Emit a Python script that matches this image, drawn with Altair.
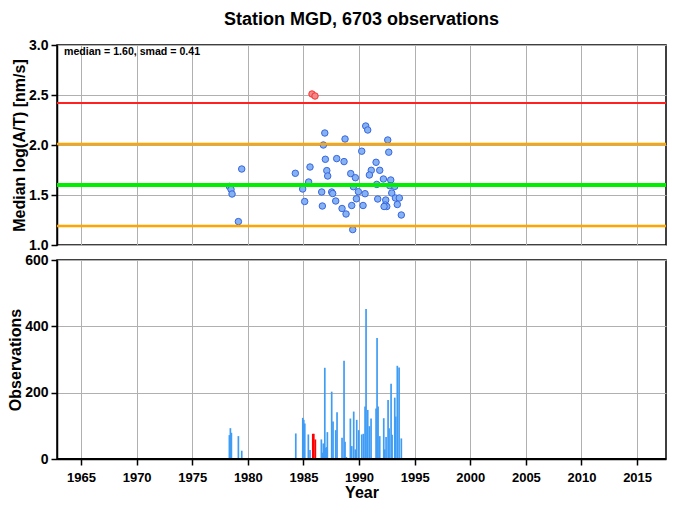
import altair as alt
import pandas as pd

# ---- data ----
pt_year = [1978.34, 1978.49, 1978.58, 1979.15, 1979.45,
           1984.27, 1985.59, 1985.47, 1984.93, 1985.11, 1986.92, 1986.79, 1986.97, 1987.10, 1987.18,
           1986.64, 1986.70, 1987.54, 1987.63, 1987.90, 1987.99, 1988.65, 1988.74, 1988.47, 1988.83,
           1989.25, 1989.67, 1989.49, 1989.94, 1989.76, 1989.34, 1989.43, 1990.24, 1990.54, 1990.36,
           1990.60, 1990.78, 1991.53, 1991.10, 1990.93, 1991.86, 1991.59, 1991.68, 1992.58, 1992.67,
           1992.19, 1992.85, 1992.76, 1993.21, 1992.94, 1993.27, 1993.62, 1992.40, 1992.36, 1992.49,
           1992.25, 1993.44, 1993.80]
pt_value = [1.586, 1.556, 1.51, 1.234, 1.76,
            1.717, 1.78, 1.63, 1.56, 1.435, 2.12, 2.00, 1.857, 1.744, 1.69,
            1.53, 1.39, 1.53, 1.515, 1.44, 1.864, 1.834, 2.06, 1.365, 1.31,
            1.714, 1.673, 1.583, 1.533, 1.462, 1.395, 1.154, 1.938, 1.513, 1.395,
            2.19, 2.15, 1.827, 1.747, 1.70, 1.747, 1.606, 1.46, 2.05, 1.928,
            1.66, 1.65, 1.593, 1.586, 1.52, 1.47, 1.47, 1.45, 1.40, 1.385,
            1.385, 1.405, 1.30]
out_year = [1985.77, 1986.04]
out_value = [2.51, 2.49]

bar_year = [1978.34, 1978.43, 1978.52, 1979.15, 1979.45,
            1984.31, 1984.94, 1985.03, 1985.12, 1985.44, 1985.59,
            1986.61, 1986.70, 1986.79, 1986.92, 1987.01, 1987.10, 1987.15, 1987.54, 1987.66, 1987.90,
            1988.02, 1988.47, 1988.65, 1988.74, 1988.86, 1989.22, 1989.34, 1989.52, 1989.67, 1989.79,
            1989.97, 1990.24, 1990.39, 1990.54, 1990.63, 1990.78, 1990.93, 1991.08, 1991.53, 1991.62,
            1991.71, 1991.86, 1992.22, 1992.31, 1992.43, 1992.61, 1992.70, 1992.88, 1992.97, 1993.21,
            1993.30, 1993.44, 1993.60, 1993.80]
bar_count = [72, 93, 79, 69, 25,
             77, 124, 118, 107, 74, 27,
             59, 19, 47, 275, 34, 36, 81, 203, 113, 87,
             141, 64, 296, 52, 6, 122, 39, 143, 29, 118,
             87, 74, 76, 158, 452, 148, 99, 122, 152, 365,
             158, 69, 123, 29, 66, 178, 93, 227, 73, 185,
             128, 281, 276, 62]
red_bar_year = [1985.84, 1985.93, 1986.07]
red_bar_count = [76, 76, 59]

median = 1.60
smad = 0.41
ref_levels = [median + 2 * smad, median + smad, median, median - smad]
ref_colors = ["#ff2020", "#ffa500", "#00ee00", "#ffa500"]
ref_widths = [2, 2.5, 4, 2.5]

year_ticks = [1965, 1970, 1975, 1980, 1985, 1990, 1995, 2000, 2005, 2010, 2015]
x_domain = [1962.84, 2017.6]

FONT = "Liberation Sans"
W = 609

pts = pd.DataFrame({"year": pt_year, "value": pt_value})
outs = pd.DataFrame({"year": out_year, "value": out_value})
bars = pd.DataFrame({"year": bar_year, "count": bar_count})
rbars = pd.DataFrame({"year": red_bar_year, "count": red_bar_count})

xscale = alt.Scale(domain=x_domain, nice=False, zero=False)
yscale_top = alt.Scale(domain=[1.0, 3.0], nice=False, zero=False)

x_top = alt.X("year:Q", scale=xscale,
              axis=alt.Axis(values=year_ticks, labels=False, title=None, ticks=False, domain=False,
                            grid=True, gridColor="#b0b0b0"))
y_top = alt.Y("value:Q", scale=yscale_top,
              axis=alt.Axis(values=[1.0, 1.5, 2.0, 2.5, 3.0], format=".1f",
                            title="Median log(A/T) [nm/s]", grid=True, gridColor="#b0b0b0"))

ref_layers = []
for lvl, col, w in zip(ref_levels, ref_colors, ref_widths):
    ref_layers.append(
        alt.Chart(pd.DataFrame({"value": [lvl]})).mark_rule(color=col, strokeWidth=w)
        .encode(y=alt.Y("value:Q", scale=yscale_top))
    )

base_pts = alt.Chart(pts).mark_circle(size=42, opacity=1, fill="#84b2f2", stroke="#3a66e0",
                                      strokeWidth=1).encode(x=x_top, y=y_top)
out_pts = alt.Chart(outs).mark_circle(size=42, opacity=1, fill="#f08a8a", stroke="#ff3030",
                                      strokeWidth=1).encode(x="year:Q", y="value:Q")
label = alt.Chart(pd.DataFrame({"t": ["median = 1.60, smad = 0.41"]})).mark_text(
    align="left", baseline="middle", font=FONT, fontSize=10.6, fontWeight="bold", color="black"
).encode(text="t:N", x=alt.value(7), y=alt.value(7))

top = alt.layer(base_pts, *ref_layers, out_pts, label).properties(width=W, height=200)

x_bot = alt.X("year:Q", scale=xscale,
              axis=alt.Axis(values=year_ticks, format="d", title="Year", grid=True, gridColor="#b0b0b0",
                            labelFontSize=13, tickSize=6, labelPadding=6, titlePadding=0))
y_bot = alt.Y("count:Q", scale=alt.Scale(domain=[0, 600], nice=False),
              axis=alt.Axis(values=[0, 200, 400, 600], title="Observations", grid=True,
                            gridColor="#b0b0b0"))

bar_blue = alt.Chart(bars).mark_rule(color="#3f9cf5", strokeWidth=1.7).encode(
    x=x_bot, y=y_bot, y2=alt.datum(0))
bar_red = alt.Chart(rbars).mark_rule(color="#ff0000", strokeWidth=1.7).encode(
    x="year:Q", y="count:Q", y2=alt.datum(0))
zero_line = alt.Chart(pd.DataFrame({"count": [0]})).mark_rule(color="black", strokeWidth=2).encode(
    y="count:Q")

bottom = alt.layer(bar_blue, bar_red, zero_line).properties(width=W, height=199)

chart = alt.vconcat(top, bottom, spacing=15, bounds="flush").properties(
    title=alt.TitleParams("Station MGD, 6703 observations", font=FONT, fontSize=18,
                          fontWeight="bold", anchor="middle", frame="group", offset=8),
    padding={"left": -2, "right": 0, "top": 3, "bottom": -1},
).configure_view(
    stroke="black", strokeWidth=1.5
).configure_axis(
    labelFont=FONT, labelFontSize=14, labelFontWeight="bold", labelColor="black",
    titleFont=FONT, titleFontSize=16, titleFontWeight="bold", titleColor="black",
    tickColor="black", tickSize=6, tickWidth=1.5, domainColor="black", domainWidth=1.5,
    labelPadding=3, titlePadding=1
)

chart.save("out.html", embed_options={"renderer": "svg", "actions": False})
